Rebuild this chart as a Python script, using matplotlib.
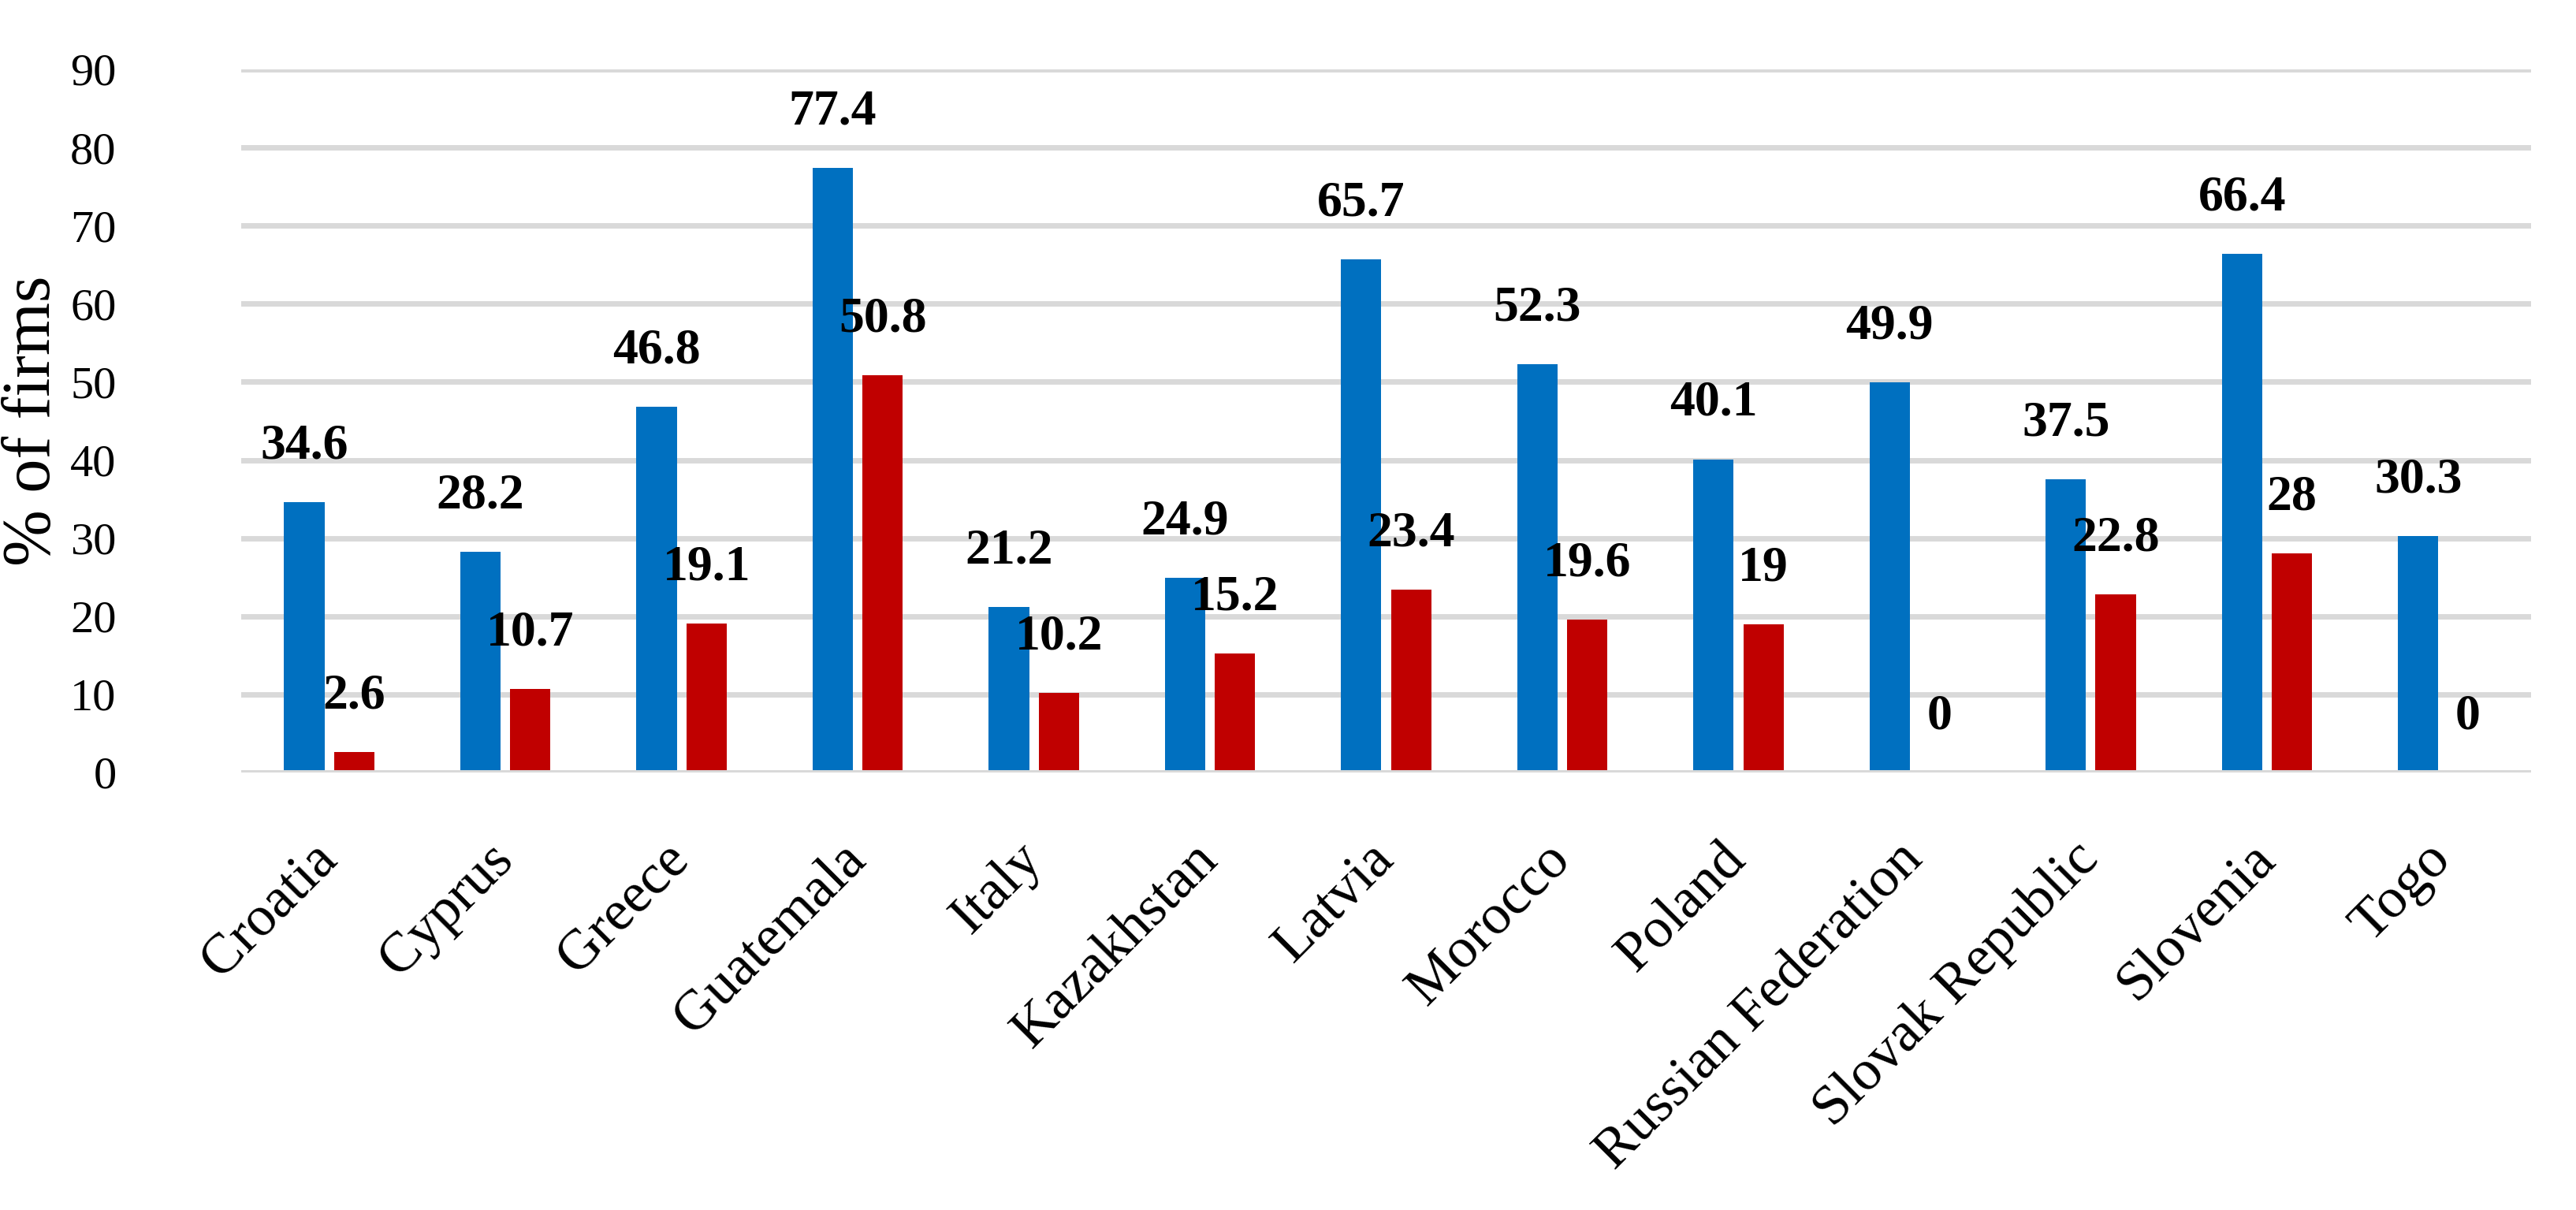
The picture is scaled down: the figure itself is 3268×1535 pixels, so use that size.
import matplotlib.pyplot as plt
import numpy as np

# data
countries = ['Croatia', 'Cyprus', 'Greece', 'Guatemala', 'Italy', 'Kazakhstan',
             'Latvia', 'Morocco', 'Poland', 'Russian Federation',
             'Slovak Republic', 'Slovenia', 'Togo']
blue_vals = [34.6, 28.2, 46.8, 77.4, 21.2, 24.9, 65.7, 52.3, 40.1, 49.9, 37.5, 66.4, 30.3]
red_vals = [2.6, 10.7, 19.1, 50.8, 10.2, 15.2, 23.4, 19.6, 19, 0, 22.8, 28, 0]
y_ticks = [0, 10, 20, 30, 40, 50, 60, 70, 80, 90]

blue = '#0070C0'
red = '#C00000'
grid_col = '#D9D9D9'
serif = ['Liberation Serif', 'DejaVu Serif']

fig = plt.figure(figsize=(16.34, 7.675), dpi=200)
ax = fig.add_axes([0.0936, 0.3616, 0.889, 0.5811])

x = np.arange(len(countries))
w = 0.229
off = 0.1415

bars_b = ax.bar(x - off, blue_vals, width=w, color=blue, zorder=2)
bars_r = ax.bar(x + off, red_vals, width=w, color=red, zorder=2)

# value labels above each bar
for bars, vals in [(bars_b, blue_vals), (bars_r, red_vals)]:
    for b, v in zip(bars, vals):
        ax.annotate(f'{v:g}', (b.get_x() + b.get_width() / 2, v),
                    xytext=(0, 20), textcoords='offset points',
                    ha='center', va='baseline', fontsize=23,
                    fontweight='bold', family=serif, zorder=4)

ax.set_xlim(-0.5, len(countries) - 0.5)
ax.set_ylim(0, 90)
ax.set_yticks(y_ticks)
ax.yaxis.grid(True, color=grid_col, linewidth=2.5, zorder=0)
ax.set_axisbelow(True)
ax.axhline(0, color=grid_col, linewidth=2.5, zorder=3)

for s in ax.spines.values():
    s.set_visible(False)

ax.tick_params(axis='y', length=0, pad=57, labelsize=21)
ax.tick_params(axis='x', length=0, pad=36)
ax.set_xticks(x)
ax.set_xticklabels(countries, rotation=45, ha='right', va='center',
                   rotation_mode='anchor', fontsize=26, family=serif)
for lab in ax.get_yticklabels():
    lab.set_family(serif)

ax.set_ylabel('% of firms', fontsize=31, family=serif)
ax.yaxis.set_label_coords(-0.077, 0.5)

fig.savefig('out.png', dpi=200)
